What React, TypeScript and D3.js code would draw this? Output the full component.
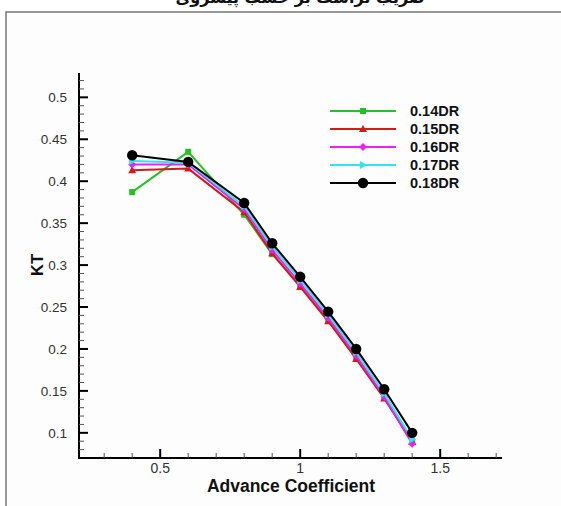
import React from "react";
import * as d3 from "d3";

// Advance coefficient J and thrust coefficient KT for each duct ratio
const advance = [0.4, 0.6, 0.8, 0.9, 1.0, 1.1, 1.2, 1.3, 1.4];
const kt014 = [0.387, 0.435, 0.36, 0.313, 0.275, 0.234, 0.19, 0.142, 0.09];
const kt015 = [0.413, 0.415, 0.363, 0.314, 0.274, 0.233, 0.188, 0.141, 0.089];
const kt016 = [0.42, 0.42, 0.367, 0.318, 0.278, 0.237, 0.192, 0.143, 0.087];
const kt017 = [0.424, 0.422, 0.37, 0.322, 0.282, 0.241, 0.196, 0.147, 0.092];
const kt018 = [0.431, 0.423, 0.374, 0.326, 0.286, 0.2445, 0.2, 0.152, 0.1];

const seriesNames = ["0.14DR", "0.15DR", "0.16DR", "0.17DR", "0.18DR"];
const seriesValues = [kt014, kt015, kt016, kt017, kt018];
const seriesColors = ["#22c322", "#d41a1a", "#f01ef0", "#2ee6f0", "#000000"];
const seriesSymbols = ["square", "triangle", "diamond", "arrow", "circle"];

const xTicks = [0.5, 1, 1.5];
const yTicks = [0.1, 0.15, 0.2, 0.25, 0.3, 0.35, 0.4, 0.45, 0.5];

const W = 561;
const H = 506;

const x = d3.scaleLinear().domain([0.21, 1.72]).range([79, 501.8]);
const y = d3.scaleLinear().domain([0.07, 0.529]).range([458, 73]);

const fmt = (v: number) => String(+v.toFixed(2));

function Marker({ kind, cx, cy, color }: { kind: string; cx: number; cy: number; color: string }) {
  if (kind === "circle") return <circle cx={cx} cy={cy} r={5.2} fill={color} />;
  if (kind === "square") return <rect x={cx - 3} y={cy - 3} width={6} height={6} fill={color} />;
  if (kind === "triangle")
    return <path d={`M${cx},${cy - 4}L${cx + 4},${cy + 3}L${cx - 4},${cy + 3}Z`} fill={color} />;
  if (kind === "diamond")
    return <path d={`M${cx},${cy - 4}L${cx + 4},${cy}L${cx},${cy + 4}L${cx - 4},${cy}Z`} fill={color} />;
  return <path d={`M${cx + 4},${cy}L${cx - 3},${cy - 4}L${cx - 3},${cy + 4}Z`} fill={color} />;
}

export default function App() {
  const line = d3
    .line<number>()
    .x((_, i) => x(advance[i]))
    .y((d) => y(d));

  const minorX = d3.range(3, 18).map((k) => k / 10).filter((v) => !xTicks.some((t) => Math.abs(t - v) < 1e-9));
  const minorY = d3.range(8, 53).map((k) => k / 100).filter((v) => !yTicks.some((t) => Math.abs(t - v) < 1e-9));

  const legendY = (i: number) => 111 + i * 18;

  return (
    <svg
      width={W}
      height={H}
      style={{ position: "absolute", left: 0, top: 0, background: "#fff" }}
      fontFamily="'Liberation Sans', Arial, sans-serif"
    >
      <rect x={6} y={12} width={W} height={H} fill="#fdfdfd" stroke="#777" strokeWidth={1.5} />
      <text
        x={300}
        y={3}
        textAnchor="middle"
        fontFamily="'DejaVu Sans', sans-serif"
        fontWeight="bold"
        fontSize={16}
        fill="#111"
        direction="rtl"
      >
        ضریب تراست بر حسب پیشروی
      </text>

      {/* axes */}
      <line x1={79} x2={79} y1={73} y2={459} stroke="#000" strokeWidth={2} />
      <line x1={78} x2={502} y1={458} y2={458} stroke="#000" strokeWidth={2} />

      {yTicks.map((t) => (
        <g key={"yt" + t}>
          <line x1={79} x2={88} y1={y(t)} y2={y(t)} stroke="#000" strokeWidth={2} />
          <text x={67} y={y(t)} dy="0.35em" textAnchor="end" fontSize={13.5} fill="#333">
            {fmt(t)}
          </text>
        </g>
      ))}
      {minorY.map((t) => (
        <line key={"ym" + t} x1={79} x2={84} y1={y(t)} y2={y(t)} stroke="#555" strokeWidth={1} />
      ))}
      {xTicks.map((t) => (
        <g key={"xt" + t}>
          <line x1={x(t)} x2={x(t)} y1={458} y2={449} stroke="#000" strokeWidth={2} />
          <text x={x(t)} y={468} dy="0.35em" textAnchor="middle" fontSize={14} fill="#333">
            {fmt(t)}
          </text>
        </g>
      ))}
      {minorX.map((t) => (
        <line key={"xm" + t} x1={x(t)} x2={x(t)} y1={458} y2={453} stroke="#555" strokeWidth={1} />
      ))}

      <text x={291} y={486} dy="0.35em" textAnchor="middle" fontSize={17.5} fontWeight="bold" fill="#111">
        Advance Coefficient
      </text>
      <text
        transform={`translate(37,265) rotate(-90)`}
        dy="0.35em"
        textAnchor="middle"
        fontSize={16.5}
        fontWeight="bold"
        fill="#111"
      >
        KT
      </text>

      {/* series */}
      {seriesValues.map((vals, s) => (
        <g key={seriesNames[s]}>
          <path d={line(vals) || ""} fill="none" stroke={seriesColors[s]} strokeWidth={2} />
          {vals.map((v, i) => (
            <Marker key={i} kind={seriesSymbols[s]} cx={x(advance[i])} cy={y(v)} color={seriesColors[s]} />
          ))}
        </g>
      ))}

      {/* legend */}
      {seriesNames.map((n, s) => (
        <g key={"lg" + n}>
          <line x1={330} x2={396} y1={legendY(s)} y2={legendY(s)} stroke={seriesColors[s]} strokeWidth={2} />
          <Marker kind={seriesSymbols[s]} cx={363} cy={legendY(s)} color={seriesColors[s]} />
          <text x={410} y={legendY(s)} dy="0.35em" fontSize={14.5} fontWeight="bold" fill="#111">
            {n}
          </text>
        </g>
      ))}
    </svg>
  );
}
